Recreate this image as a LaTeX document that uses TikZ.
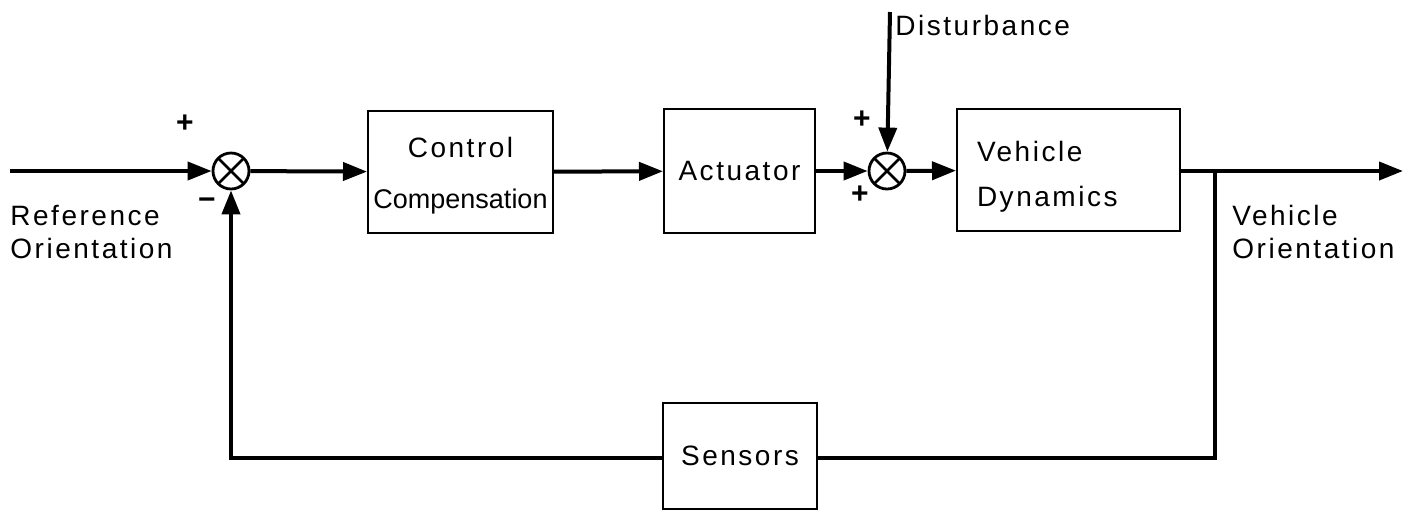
\documentclass[tikz,border=0pt]{standalone}
\usepackage{fontspec}
\setmainfont{Liberation Sans}[LetterSpace=9]
\newfontfamily\narrowfont{Liberation Sans}
\usetikzlibrary{arrows.meta}
\begin{document}
\begin{tikzpicture}[x=0.5pt,y=-0.5pt,
  font=\fontsize{14}{16.5}\selectfont,
  blk/.style={draw,line width=1pt,inner sep=0pt},
  sgn/.style={font=\fontsize{15}{16}\bfseries\selectfont,inner sep=0pt},
  sum/.style={draw,circle,line width=1.4pt,minimum size=18pt,inner sep=0pt,
    path picture={\draw[line width=1.4pt]
      (path picture bounding box.north west) -- (path picture bounding box.south east)
      (path picture bounding box.north east) -- (path picture bounding box.south west);}},
  sig/.style={line width=2pt,-{Triangle[length=12pt,width=9pt]}},
  wire/.style={line width=2pt}]
\useasboundingbox (0,0) rectangle (1404,510);
\node[sum] (sumA) at (231,171) {};
\node[blk,minimum width=92.5pt,minimum height=61pt,align=center] (ctrl) at (460.5,172)
  {\rule{0pt}{14pt}Control\\[9pt]{\narrowfont\fontsize{13.5}{16}\selectfont Compensation}};
\node[blk,minimum width=75.5pt,minimum height=62pt] (act) at (739.5,171) {Actuator};
\node[blk,text width=91.5pt,inner xsep=10pt,minimum height=61pt,align=left] (veh) at (1068.5,170)
  {\rule{0pt}{17pt}Vehicle\\[6pt]Dynamics};
\node[sum] (sumB) at (887,171) {};
\node[blk,minimum width=77pt,minimum height=53pt] (sens) at (740,456) {Sensors};
\coordinate (in) at (10,171);
\coordinate (out) at (1403,171);
\coordinate (brR) at (1215,171);
\coordinate (fbR) at (1215,458);
\coordinate (fbL) at (231,458);
\coordinate (dist) at (890,12);
\draw[sig] (in) -- (sumA);
\draw[sig] (sumA) -- (ctrl);
\draw[sig] (ctrl) -- (act);
\draw[sig] (act) -- (sumB);
\draw[sig] (sumB) -- (veh);
\draw[sig] (dist) -- (sumB);
\draw[sig] (veh.east |- out) -- (out);
\draw[wire] (brR) -- (fbR) -- (sens.east |- fbR);
\draw[sig] (sens.west |- fbL) -- (fbL) -- (sumA);
\node[sgn] (pA) at (185,124) {+};
\node[sgn] (mA) at (207,204) {−};
\node[sgn] (pB) at (862,120) {+};
\node[sgn] (pC) at (860,195) {+};
\node[anchor=west,inner sep=0pt] (lDist) at (895,25) {Disturbance};
\node[anchor=north west,inner sep=0pt,align=left] (lRef) at (10,205) {Reference\\Orientation};
\node[anchor=north west,inner sep=0pt,align=left] (lOut) at (1232,205) {Vehicle\\Orientation};
\end{tikzpicture}
\end{document}
